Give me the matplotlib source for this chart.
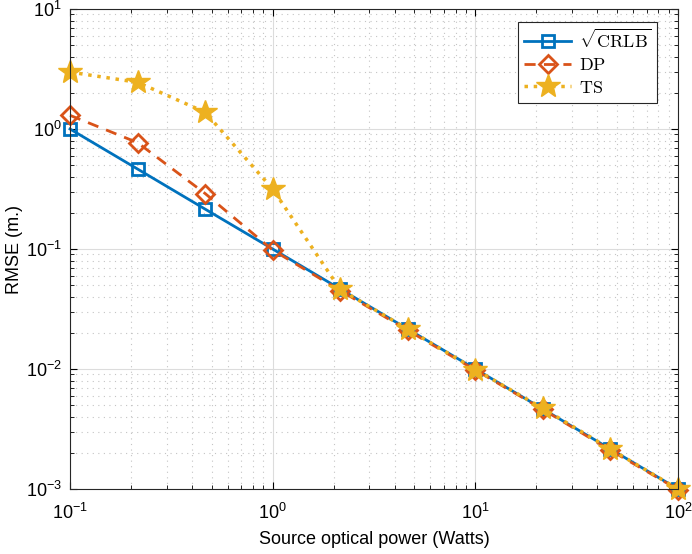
import matplotlib
matplotlib.use('Agg')
import matplotlib.pyplot as plt

power = [0.1, 0.2154, 0.4642, 1.0, 2.154, 4.642, 10.0, 21.54, 46.42, 100.0]
crlb = [1.0, 0.464, 0.215, 0.1, 0.0464, 0.0215, 0.01, 0.00464, 0.00215, 0.001]
dp = [1.3, 0.77, 0.29, 0.098, 0.045, 0.021, 0.0098, 0.0046, 0.0021, 0.00099]
ts = [2.98, 2.45, 1.38, 0.316, 0.046, 0.0215, 0.0099, 0.0047, 0.00215, 0.001]

plt.rcParams['font.family'] = ['Liberation Sans', 'DejaVu Sans']
plt.rcParams['mathtext.fontset'] = 'cm'

fig = plt.figure(figsize=(6.92, 5.54), dpi=100)
ax = fig.add_axes([70 / 692, 1 - 489 / 554, 608 / 692, 480 / 554])

ax.loglog(power, crlb, '-s', color='#0072BD', lw=2, ms=8, mew=2, mfc='none',
          clip_on=False, label=r'$\sqrt{\mathrm{CRLB}}$')
ax.loglog(power, dp, '--D', color='#D95319', lw=2, ms=9, mew=2, mfc='none',
          dashes=(4, 3), clip_on=False, label=r'$\mathrm{DP}$')
ax.loglog(power, ts, ':*', color='#EDB120', lw=2.5, ms=18, mew=1, mfc='#EDB120',
          clip_on=False, label=r'$\mathrm{TS}$')

ax.set_xlim(0.1, 100)
ax.set_ylim(1e-3, 10)
ax.grid(True, which='major', color='#dcdcdc', lw=0.8, ls='-')
ax.grid(True, which='minor', color='#c4c4c4', lw=0.8, ls=(0, (1, 4)))
ax.set_axisbelow(True)
ax.tick_params(which='both', direction='in', top=True, right=True, labelsize=13)
ax.tick_params(axis='x', which='major', pad=10)
ax.tick_params(axis='y', which='major', pad=6)
ax.tick_params(which='major', length=5)
ax.tick_params(which='minor', length=3)
for s in ax.spines.values():
    s.set_color('#262626')
    s.set_linewidth(0.8)

ax.set_xlabel('Source optical power (Watts)', fontsize=13, labelpad=6)
ax.set_ylabel('RMSE (m.)', fontsize=13, labelpad=2)

leg = ax.legend(loc='upper right', fontsize=13, fancybox=False, framealpha=1,
                edgecolor='#262626', handlelength=2.6, borderaxespad=1.0,
                bbox_to_anchor=(0.995, 1.01),
                labelspacing=0.3, borderpad=0.35, handletextpad=0.4)
leg.get_frame().set_linewidth(0.8)
leg.set_zorder(5)

fig.savefig('out.png', dpi=100)
